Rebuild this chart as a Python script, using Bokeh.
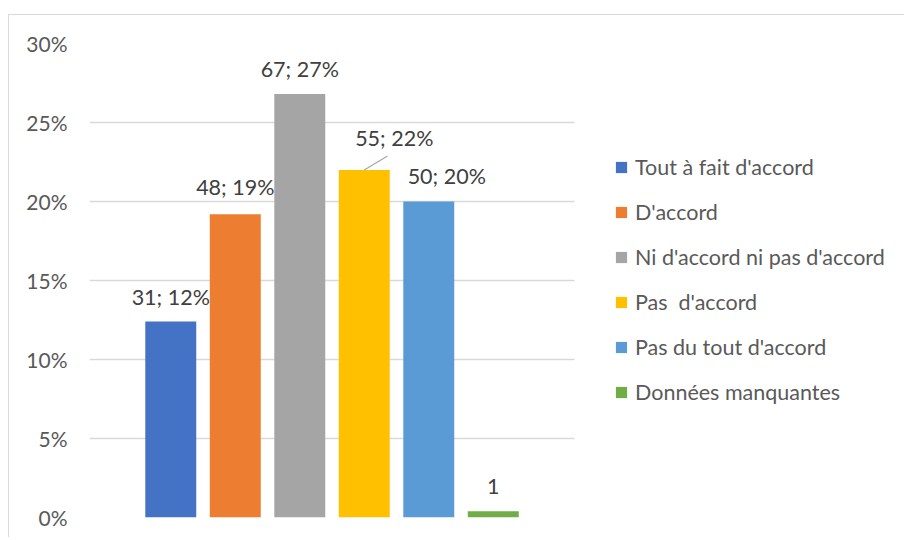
from bokeh.plotting import figure
from bokeh.models import Range1d, FixedTicker, Legend, LegendItem, ColumnDataSource, CustomJSTickFormatter
from bokeh.core.properties import value
from bokeh.embed import file_html
from bokeh.resources import INLINE

categories = ["Tout à fait d'accord", "D'accord", "Ni d'accord ni pas d'accord",
              "Pas  d'accord", "Pas du tout d'accord", "Données manquantes"]
counts = [31, 48, 67, 55, 50, 1]
shares = [0.124, 0.192, 0.268, 0.220, 0.200, 0.004]
labels = ["31; 12%", "48; 19%", "67; 27%", "55; 22%", "50; 20%", "1"]
colors = ["#4472C4", "#ED7D31", "#A5A5A5", "#FFC000", "#5B9BD5", "#70AD47"]
y_ticks = [0, 0.05, 0.10, 0.15, 0.20, 0.25, 0.30]

xs = list(range(len(categories)))

# label placement (pixels)
lab_dx = [0, 0, 0, 30, 18, 0]
lab_dy = [-25, -27, -25, -32, -26, -25]

FONT = "Lato"
X0 = -1.26
BAR_END = 6.26
PX_PER_UNIT = 64.5
FRAME_W = 815

p = figure(frame_width=FRAME_W, frame_height=474, output_backend="svg", toolbar_location=None,
           x_range=Range1d(X0, X0 + FRAME_W / PX_PER_UNIT), y_range=Range1d(0, 0.30),
           min_border_left=80, min_border_top=28, min_border_bottom=20, min_border_right=0)
p.margin = (14, 0, 0, 8)
p.styles = {"border-top": "1px solid #d9d9d9", "border-left": "1px solid #d9d9d9"}
p.outline_line_color = None
p.background_fill_color = "white"
p.border_fill_color = "white"

p.xaxis.visible = False
p.xgrid.visible = False
p.ygrid.grid_line_color = "#d9d9d9"
p.ygrid.grid_line_width = 1.5
p.ygrid.cross_bounds = (X0, BAR_END)
p.yaxis.ticker = FixedTicker(ticks=y_ticks)
p.yaxis.formatter = CustomJSTickFormatter(code="return Math.round(tick*100) + '%';")
p.yaxis.axis_line_color = None
p.yaxis.major_tick_line_color = None
p.yaxis.minor_tick_line_color = None
p.yaxis.major_label_text_font = FONT
p.yaxis.major_label_text_font_size = "21px"
p.yaxis.major_label_text_color = "#595959"
p.yaxis.major_label_standoff = 16

src = ColumnDataSource(dict(x=xs, top=shares, label=labels, dx=lab_dx, dy=lab_dy))
items = []
for i in xs:
    r = p.vbar(x=[xs[i]], top=[shares[i]], width=0.79, color=colors[i], line_color=None)
    items.append(LegendItem(label=categories[i], renderers=[r]))

p.text(x="x", y="top", text="label", source=src, x_offset="dx", y_offset="dy",
       text_align="center", text_baseline="middle", text_font=value(FONT),
       text_font_size="21.5px", text_color="#404040")

# leader line for the displaced label of the 4th bar
p.segment(x0=[xs[3]], y0=[shares[3]], x1=[xs[3] + 0.36], y1=[shares[3] + 0.0088],
          line_color="#a6a6a6", line_width=1.2)

legend = Legend(items=items, location=(525, 112), orientation="vertical")
legend.label_text_font = FONT
legend.label_text_font_size = "21.5px"
legend.label_text_color = "#595959"
legend.glyph_width = 14
legend.glyph_height = 14
legend.label_height = 26
legend.spacing = 19
legend.margin = 0
legend.padding = 10
legend.label_standoff = 7
legend.border_line_color = None
legend.background_fill_alpha = 0
p.add_layout(legend)

open("out.html", "w").write(file_html(p, INLINE))
